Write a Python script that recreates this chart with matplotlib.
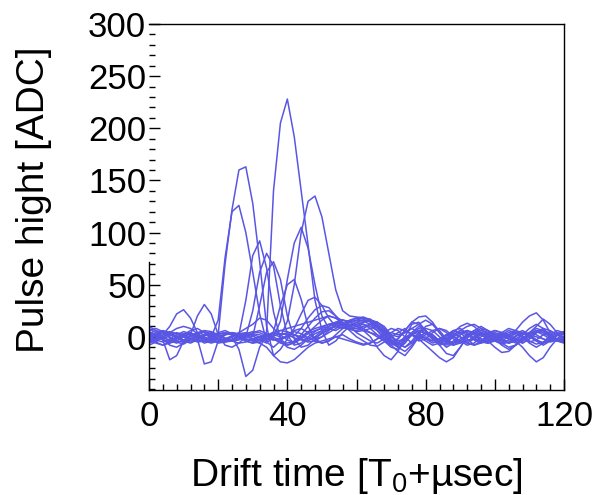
import matplotlib
matplotlib.use("Agg")
import matplotlib.pyplot as plt
from matplotlib.ticker import MultipleLocator, FixedLocator

plt.rcParams['font.family'] = ['Liberation Sans', 'DejaVu Sans']
plt.rcParams['mathtext.default'] = 'regular'

# sample times [T0 + usec]
time_us = list(range(0, 121, 2))

# waveforms (ADC), one value per sample time
wf01 = [5, 2, -3, -6, -4, 0, 3, 1, -3, -5,
        -4, -2, 1, 3, 2, -2, -6, 5, 140, 205,
        228, 192, 140, 88, 35, 6, -8, -4, 4, 10,
        14, 16, 15, 10, 2, -6, -10, -6, 2, 6,
        3, -2, -6, -4, 2, 6, 4, -1, -5, -6,
        -3, 2, 6, 4, -1, -5, -3, 2, 5, 3, 0]
wf02 = [-2, -5, -8, -6, -1, 3, 4, 0, -4, -3,
        2, 70, 122, 160, 163, 128, 72, 10, -18, -12,
        -2, 6, 8, 4, -2, -6, -4, 2, 8, 14,
        16, 18, 17, 12, 4, -4, -8, -4, 2, 0,
        -4, -8, -6, 0, 6, 8, 3, -3, -6, -4,
        0, 4, 2, -3, -6, -2, 4, 7, 3, -2, -4]
wf03 = [8, 4, -2, -8, -10, -6, 0, 4, 2, 0,
        16, 76, 120, 126, 100, 62, 22, -5, -10, -4,
        2, 5, 3, -1, -4, -6, -4, 0, 2, -2,
        -5, -7, -6, -2, 2, 4, 2, 4, 8, 4,
        -2, -6, -4, 2, 6, 4, -2, -8, -6, 0,
        4, 2, -2, -6, -4, 0, 5, 8, 6, 2, -2]
wf04 = [0, -3, -5, -2, 2, 5, 3, -2, -6, -4,
        0, 3, 2, 2, 35, 78, 92, 66, 24, -2,
        -8, -6, -1, 3, 6, 8, 10, 12, 13, 12,
        10, 14, 16, 14, 8, 0, -6, -10, -4, 4,
        8, 6, 0, -6, -8, -4, 2, 6, 4, 0,
        -4, -7, -5, 0, 4, 2, -3, -6, -3, 1, 3]
wf05 = [-6, -4, 0, 3, 1, -3, -5, -2, 2, 4,
        2, -2, -4, -3, 0, 25, 62, 80, 68, 30,
        2, -8, -6, 0, 5, 9, 12, 13, 11, 8,
        5, 6, 8, 10, 6, -2, -10, -14, -8, 0,
        4, 2, -4, -10, -6, 2, 6, 2, -4, -6,
        -2, 4, 8, 6, 1, -4, -7, -5, 0, 4, 2]
wf06 = [3, 6, 4, -1, -5, -7, -3, 2, 5, 3,
        -2, -5, -4, 0, 2, 0, 30, 62, 72, 55,
        20, -2, -10, -8, -2, 4, 8, 10, 9, 7,
        6, 8, 12, 14, 10, 2, -6, -10, -6, 2,
        10, 12, 6, -2, -6, -4, 0, 4, 8, 6,
        0, -4, -6, -2, 2, 4, 2, -2, -5, -3, 0]
wf07 = [-4, -1, 2, 4, 3, 0, -2, -4, -3, 0,
        3, 4, 2, -1, -3, -2, 0, -5, 5, 30,
        50, 55, 36, 10, -2, 0, 6, 12, 16, 15,
        14, 12, 8, 2, -4, -10, -12, -6, 4, 10,
        6, -2, -8, -6, 0, 4, 2, -2, -4, 0,
        2, -2, -6, -4, 2, 8, 12, 8, 0, -4, -2]
wf08 = [2, 0, -3, -5, -2, 2, 6, 8, 4, -2,
        -5, -4, 0, 3, 4, 1, -3, -6, 0, 15,
        55, 90, 105, 85, 50, 20, 8, 6, 10, 15,
        18, 19, 16, 10, 2, -4, -6, -2, 4, 2,
        -2, -4, -2, 2, 4, 0, -6, -8, -4, 2,
        6, 4, 0, 3, 6, 2, -4, -8, -4, 3, 5]
wf09 = [-3, -6, -8, -4, 0, 3, 2, -1, -3, -1,
        2, 4, 3, 0, -4, -6, -3, 1, 2, 0,
        15, 50, 100, 130, 135, 115, 80, 45, 25, 20,
        19, 18, 16, 12, 6, 0, -4, -2, 4, 8,
        6, 0, -6, -8, -4, 2, 6, 4, -2, -6,
        -4, 0, 2, -2, -6, -2, 4, 6, 2, -3, -5]
wf10 = [0, 3, 6, 4, 0, -4, -6, -3, 1, 3,
        1, -2, -4, -2, 1, 3, 2, -1, -3, -2,
        0, 8, 22, 35, 38, 30, 18, 10, 8, 10,
        12, 14, 16, 14, 8, 2, 0, 4, 8, 12,
        16, 12, 4, -4, -8, -6, -1, 3, 6, 4,
        -2, -8, -12, -8, -2, 3, 5, 2, -2, -4, -2]
wf11 = [6, 8, 5, 0, -4, -5, -2, 1, 0, -3,
        -6, -5, -2, 1, 3, 2, 0, -2, -3, -1,
        0, 1, 8, 18, 26, 30, 28, 20, 12, 8,
        8, 6, 4, 2, -2, -8, -14, -18, -10, 0,
        4, 2, -4, -2, 2, 6, 10, 12, 8, 2,
        -4, -6, -3, 1, 4, 2, -3, -6, -3, 2, 4]
wf12 = [-8, -5, 0, 2, -1, -4, -2, 3, 5, 2,
        -2, -3, 0, 4, 8, 12, 18, 16, 8, 2,
        -3, -6, -2, 4, 10, 16, 20, 18, 12, 6,
        0, -4, -8, -9, -5, 0, 4, 8, 2, -4,
        -2, 4, 8, 6, 0, -4, -6, -2, 4, 6,
        3, -2, -6, -4, -1, 3, 6, 4, 0, -4, -5]
wf13 = [0, -2, 2, 10, 22, 26, 18, 4, -4, -6,
        -4, -2, 0, -12, -38, -32, -10, 2, 4, 2,
        4, 2, 0, -2, -1, 3, 7, 10, 12, 11,
        10, 12, 10, 6, 0, -6, -8, -4, 2, 6,
        4, 0, -4, -2, 2, 0, -4, -2, 2, 4,
        2, 1, 4, 6, 4, 0, -4, -6, -2, 2, 4]
wf14 = [4, 2, -3, -22, -18, -4, 2, 20, 31, 22,
        2, -8, -10, -6, 0, 4, 6, 3, -2, -6,
        -8, -5, 0, 5, 8, 10, 12, 14, 13, 10,
        8, 10, 12, 10, 4, -4, -2, 6, 14, 12,
        6, 0, -8, -16, -18, -10, 0, 4, 2, -2,
        -4, -2, 2, 4, 0, -6, -10, -6, 2, 6, 4]
wf15 = [-2, 1, 4, 5, 3, 0, -3, -2, -26, -24,
        -4, 2, 4, 3, 0, -2, -3, 0, 4, 6,
        8, 10, 12, 14, 16, 18, 20, 18, 16, 14,
        12, 8, 4, 0, -4, -8, -6, 0, 2, -2,
        -8, -14, -20, -24, -20, -10, 0, 6, 10, 6,
        0, -6, -10, -8, -4, 2, 6, 4, 0, -2, 0]
wf16 = [10, 6, 0, -4, -6, -3, 1, 4, 6, 5,
        2, -1, -4, -6, -5, -2, 0, 2, 0, -4,
        -10, -12, -8, -2, 3, 6, 8, 10, 12, 14,
        16, 15, 12, 6, -2, -6, -2, 6, 14, 19,
        20, 14, 4, -4, -6, -2, 2, 4, 2, -2,
        -2, 0, 2, 6, 14, 20, 23, 16, 4, -4, -6]
wf17 = [-5, -3, 0, 4, 8, 10, 8, 3, -2, -4,
        -2, 2, 4, 2, -2, -4, -2, 1, 4, 6,
        5, 2, -2, -4, 0, 6, 10, 14, 16, 14,
        10, 6, 0, -10, -18, -22, -14, 0, 12, 14,
        6, -2, -6, -4, 0, 4, 6, 2, -2, -4,
        -2, 0, -2, -4, -10, -18, -24, -20, -10, -2, 4]
wf18 = [3, 0, -2, 1, 4, 2, -2, -5, -4, 0,
        4, 6, 3, -1, -4, -6, -5, -2, 1, 3,
        2, -1, -3, -5, -4, 0, 4, 8, 12, 16,
        18, 17, 14, 8, 2, -4, -8, -4, 2, 6,
        4, 0, -4, -2, 4, 10, 13, 10, 4, -4,
        -10, -15, -14, -8, -2, 4, 10, 17, 12, 4, -2]
wf19 = [-1, 2, 5, 3, -1, -4, -3, 0, 2, 1,
        -2, -4, -3, 0, 3, 5, 4, 1, -2, -5,
        -6, -4, 2, 10, 18, 24, 25, 20, 14, 10,
        4, 0, -4, -6, -2, 4, 8, 6, 2, -2,
        0, -4, -2, 2, 0, -4, -8, -6, 0, 4,
        6, 4, 0, -4, -2, 4, 8, 6, 0, -4, -2]
wf20 = [4, 2, -1, -3, -2, 1, 3, 2, -1, -2,
        0, 2, 3, 1, -2, -4, -6, -10, -18, -24,
        -25, -22, -16, -10, -6, -4, -2, 0, -2, -4,
        -6, -8, -6, -2, 4, 8, 6, 0, -6, -2,
        2, 6, 8, 4, -2, -6, -4, 0, 4, 2,
        -2, -4, 0, 3, 4, 2, 0, -2, -4, -3, 0]

waveforms = [wf01, wf02, wf03, wf04, wf05, wf06, wf07, wf08, wf09, wf10,
             wf11, wf12, wf13, wf14, wf15, wf16, wf17, wf18, wf19, wf20]

x_major = [0, 20, 40, 60, 80, 100, 120]
x_labels = ['0', '', '40', '', '80', '', '120']
y_major = [0, 50, 100, 150, 200, 250, 300]
y_labels = ['0', '50', '100', '150', '200', '250', '300']

fig = plt.figure(figsize=(6.04, 4.95), dpi=100)
ax = fig.add_axes([149/604, 105/495, 415/604, 366/495])

line_color = '#5a56e4'
for wf in waveforms:
    ax.plot(time_us, wf, color=line_color, lw=1.1, solid_joinstyle='round')

ax.set_xlim(0, 120)
ax.set_ylim(-51, 300)

ax.xaxis.set_major_locator(FixedLocator(x_major))
ax.set_xticklabels(x_labels)
ax.xaxis.set_minor_locator(MultipleLocator(4))
ax.yaxis.set_major_locator(FixedLocator(y_major))
ax.set_yticklabels(y_labels)
ax.yaxis.set_minor_locator(MultipleLocator(10))

ax.tick_params(axis='both', which='both', direction='in', top=False, right=False,
               color='black', width=1.0)
ax.tick_params(axis='both', which='major', length=8, labelsize=25)
ax.tick_params(axis='both', which='minor', length=4)
ax.tick_params(axis='x', which='major', pad=7)
ax.tick_params(axis='y', which='major', pad=2)

for s in ax.spines.values():
    s.set_linewidth(1.0)
    s.set_color('black')
ax.spines['left'].set_bounds(-51, 72)

fig.text(356.5/604, 9/495, r'Drift time [T$_{0}$+µsec]', ha='center', va='baseline',
         fontsize=28)
fig.text(34/604, (495 - 200)/495, 'Pulse hight [ADC]', rotation=90,
         ha='center', va='center', fontsize=28)

fig.savefig('out.png', dpi=100)
